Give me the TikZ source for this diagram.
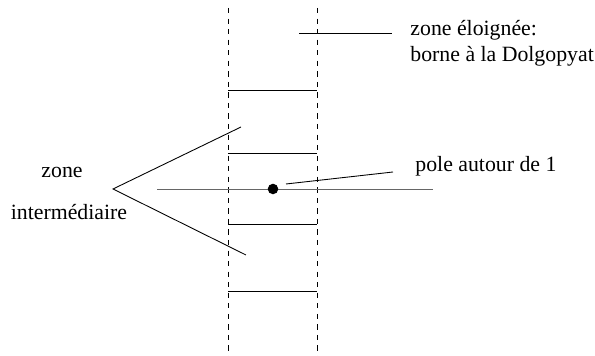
\documentclass[tikz,border=0pt]{standalone}
\usepackage{fontspec}
\setmainfont{Liberation Serif}
\usepackage{tikz}

\begin{document}
\begin{tikzpicture}[x=0.2mm,y=-0.2mm,line width=0.5pt,
  every node/.style={font=\fontsize{12.4}{15}\selectfont,inner sep=0pt},
  label/.style={anchor=base west}]
\useasboundingbox (0,0) rectangle (595,356);
% bande verticale
\coordinate (gh) at (228,8);
\coordinate (gb) at (228,356);
\coordinate (dh) at (317,8);
\coordinate (db) at (317,356);
\draw[dashed] (gh) -- (gb);
\draw[dashed] (dh) -- (db);
\foreach \y in {90,153,224,291}
  \draw (228,\y) -- (317,\y);
% axe reel et pole
\coordinate (axeg) at (157,189);
\coordinate (axed) at (433,189);
\draw[gray!80!black] (axeg) -- (axed);
\node[circle,fill,minimum size=6pt] (pole) at (273,189) {};
% zone eloignee
\node[label] (eloignee) at (410,36) {zone éloignée:};
\node[label] (borne) at (410,62) {borne à la Dolgopyat};
\coordinate (eh) at (299,33);
\draw (eh) -- (392,33);
% pole autour de 1
\node[label] (polelab) at (415,172) {pole autour de 1};
\coordinate (pd) at (393,172);
\draw (pd) -- ([shift={(13,-5)}]pole.center);
% zone intermediaire
\node[anchor=base] (zone) at (62,178) {zone};
\node[anchor=base] (inter) at (69,220) {intermédiaire};
\coordinate (sommet) at (113,189);
\draw (241,127) -- (sommet) -- (246,255);
\end{tikzpicture}
\end{document}
